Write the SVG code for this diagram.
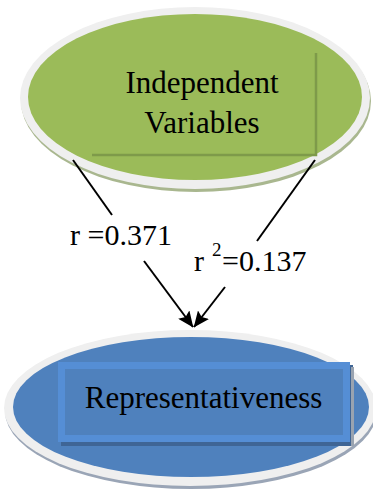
<svg xmlns="http://www.w3.org/2000/svg" width="373" height="490" viewBox="0 0 373 490">
<style>
text{font-family:"Liberation Serif","Times New Roman",serif;fill:#000;}
.lbl{font-size:31px;}
.edge{stroke:#000;stroke-width:2;fill:none;}
.rim{fill:#EFEFEF;}
</style>
<defs>
<marker id="ah" viewBox="0 0 16 14" refX="15.5" refY="7" markerWidth="16" markerHeight="14" markerUnits="userSpaceOnUse" orient="auto">
<path d="M0,0 L16,7 L0,14 L3,7 Z" fill="#000"/>
</marker>
</defs>
<rect width="373" height="490" fill="#fff"/>
<g id="node-independent">
<ellipse cx="196" cy="101" rx="175" ry="91" fill="#A9B78F"/>
<ellipse class="rim" cx="195" cy="98" rx="175" ry="91"/>
<ellipse cx="195" cy="97" rx="167" ry="83" fill="#9BBB59"/>
<polyline points="92,155 316,155 316,53" fill="none" stroke="#7E9A4A" stroke-width="2.5"/>
<text class="lbl" x="202" y="93" text-anchor="middle">Independent</text>
<text class="lbl" x="202" y="133" text-anchor="middle">Variables</text>
</g>
<g id="node-representativeness">
<ellipse cx="191" cy="411" rx="186" ry="78" fill="#9AA5B6"/>
<ellipse class="rim" cx="190" cy="408" rx="186" ry="78"/>
<ellipse cx="191" cy="407" rx="178" ry="70" fill="#4F81BD"/>
<rect x="61" y="365" width="292" height="81" fill="#3F6595"/>
<rect x="351" y="367" width="3" height="79" fill="#99A3B0"/>
<rect x="61.5" y="365.5" width="285" height="73" fill="#4F81BD" stroke="#558ED5" stroke-width="7"/>
<text class="lbl" x="203.5" y="408" text-anchor="middle">Representativeness</text>
</g>
<g id="connectors">
<line class="edge" x1="73" y1="160" x2="112" y2="215"/>
<line class="edge" x1="144" y1="261" x2="193" y2="327" marker-end="url(#ah)"/>
<line class="edge" x1="315" y1="160" x2="257" y2="241"/>
<line class="edge" x1="225" y1="287" x2="194" y2="327" marker-end="url(#ah)"/>
</g>
<g id="labels">
<text x="70" y="245" font-size="30">r =0.371</text>
<text x="194" y="271" font-size="30">r</text>
<text x="212" y="256" font-size="19">2</text>
<text x="222" y="271" font-size="30">=0.137</text>
</g>
</svg>
